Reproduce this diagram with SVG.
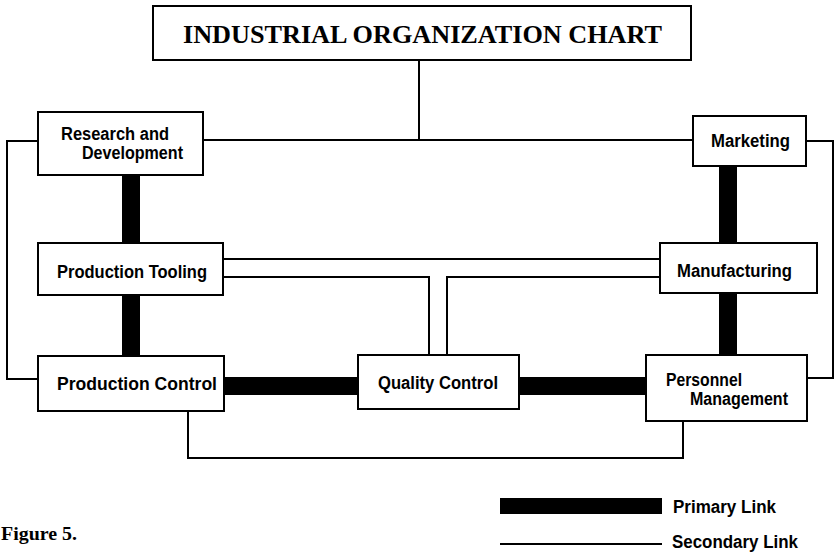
<svg xmlns="http://www.w3.org/2000/svg" width="838" height="553" viewBox="0 0 838 553">
<style>
.box{fill:#fff;stroke:#000;stroke-width:2}
.lbl{font-family:"Liberation Sans",Arial,sans-serif;font-weight:bold;font-size:18px;fill:#000}
.thin{fill:none;stroke:#000;stroke-width:2}
.thick{fill:#000;stroke:none}
.serif{font-family:"Liberation Serif","Times New Roman",serif;font-weight:bold;fill:#000}
</style>
<rect width="838" height="553" fill="#fff"/>
<g id="connectors">
<polyline class="thin" points="419,60 419,140"/>
<polyline class="thin" points="203,140 693,140"/>
<polyline class="thin" points="38,141 7,141 7,379 38,379"/>
<polyline class="thin" points="806,141 833,141 833,378 807,378"/>
<polyline class="thin" points="223,259 660,259"/>
<polyline class="thin" points="223,277 429,277 429,355"/>
<polyline class="thin" points="660,277 447,277 447,355"/>
<polyline class="thin" points="188,411 188,458 683,458 683,421"/>
<rect class="thick" x="122" y="175" width="18" height="68"/>
<rect class="thick" x="122" y="295" width="18" height="61"/>
<rect class="thick" x="719" y="166" width="18" height="77"/>
<rect class="thick" x="719" y="293" width="18" height="62"/>
<rect class="thick" x="224" y="377" width="134" height="18"/>
<rect class="thick" x="519" y="377" width="127" height="18"/>
</g>
<g id="title">
<rect class="box" x="153" y="6" width="538" height="54"/>
<text class="serif" x="183" y="43" font-size="26" textLength="479" lengthAdjust="spacingAndGlyphs">INDUSTRIAL ORGANIZATION CHART</text>
</g>
<g id="research">
<rect class="box" x="38" y="112" width="165" height="63"/>
<text class="lbl" x="61" y="140" textLength="108" lengthAdjust="spacingAndGlyphs">Research and</text>
<text class="lbl" x="82" y="159" textLength="101" lengthAdjust="spacingAndGlyphs">Development</text>
</g>
<g id="tooling">
<rect class="box" x="38" y="243" width="185" height="52"/>
<text class="lbl" x="57" y="278" textLength="150" lengthAdjust="spacingAndGlyphs">Production Tooling</text>
</g>
<g id="prodcontrol">
<rect class="box" x="38" y="356" width="186" height="55"/>
<text class="lbl" x="57" y="390" textLength="160" lengthAdjust="spacingAndGlyphs">Production Control</text>
</g>
<g id="quality">
<rect class="box" x="358" y="355" width="161" height="54"/>
<text class="lbl" x="378" y="389" textLength="120" lengthAdjust="spacingAndGlyphs">Quality Control</text>
</g>
<g id="marketing">
<rect class="box" x="693" y="116" width="113" height="50"/>
<text class="lbl" x="711" y="147" textLength="79" lengthAdjust="spacingAndGlyphs">Marketing</text>
</g>
<g id="manufacturing">
<rect class="box" x="660" y="243" width="157" height="50"/>
<text class="lbl" x="677" y="277" textLength="115" lengthAdjust="spacingAndGlyphs">Manufacturing</text>
</g>
<g id="personnel">
<rect class="box" x="646" y="355" width="161" height="66"/>
<text class="lbl" x="666" y="386" font-size="17" textLength="76" lengthAdjust="spacingAndGlyphs">Personnel</text>
<text class="lbl" x="690" y="405" font-size="17" textLength="98" lengthAdjust="spacingAndGlyphs">Management</text>
</g>
<g id="legend">
<rect class="thick" x="500" y="498" width="162" height="16"/>
<text class="lbl" x="673" y="513" textLength="103" lengthAdjust="spacingAndGlyphs">Primary Link</text>
<line class="thin" x1="500" y1="544" x2="662" y2="544"/>
<text class="lbl" x="672" y="548" textLength="126" lengthAdjust="spacingAndGlyphs">Secondary Link</text>
</g>
<text class="serif" x="1" y="540" font-size="19" textLength="76" lengthAdjust="spacingAndGlyphs">Figure 5.</text>
</svg>
